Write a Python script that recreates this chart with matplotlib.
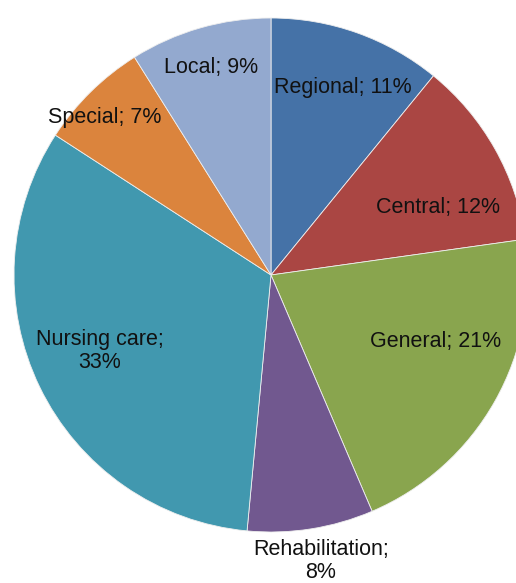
import numpy as np
import matplotlib.pyplot as plt

plt.rcParams['font.family'] = ['Liberation Sans', 'DejaVu Sans']

categories = ['Regional', 'Central', 'General', 'Rehabilitation', 'Nursing care', 'Special', 'Local']
shares = [11, 12, 21, 8, 33, 7, 9]
label_texts = ['Regional; 11%', 'Central; 12%', 'General; 21%', 'Rehabilitation;\n8%',
               'Nursing care;\n33%', 'Special; 7%', 'Local; 9%']
colors = ['#4572A7', '#AA4643', '#89A54E', '#71588F', '#4198AF', '#DB843D', '#93A9CF']

# label placement (radius as fraction of pie radius, angle shift clockwise in degrees)
label_r = [0.78, 0.70, 0.69, 1.13, 0.73, 0.89, 0.84]
label_dt = [1.5, 7.5, -7.5, -1.0, 2.0, -2.0, 0.0]

fig = plt.figure(figsize=(5.16, 5.83), dpi=100)
ax = fig.add_axes([0, 0, 1, 1])

R = 257.0
cx, cy = 271.0, 275.0
wedges, _ = ax.pie(shares, colors=colors, startangle=90, counterclock=False,
                   wedgeprops=dict(edgecolor='#eeeeee', linewidth=0.6))

for w, txt, r, dt in zip(wedges, label_texts, label_r, label_dt):
    mid = np.deg2rad((w.theta1 + w.theta2) / 2 - dt)
    ax.text(r * np.cos(mid), r * np.sin(mid), txt, ha='center', va='center',
            fontsize=15.5, color='#111111', linespacing=1.15)

ax.set_aspect('auto')
ax.set_xlim(-cx / R, (516 - cx) / R)
ax.set_ylim(-(583 - cy) / R, cy / R)
ax.axis('off')

fig.savefig('out.png', dpi=100)
